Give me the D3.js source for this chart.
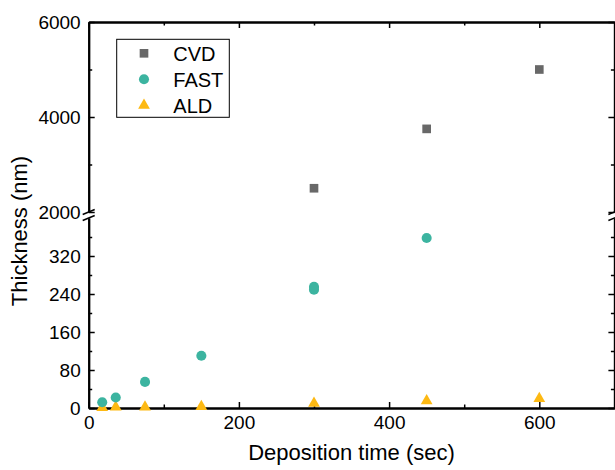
<!DOCTYPE html>
<html>
<head>
<meta charset="utf-8">
<script src="https://cdn.jsdelivr.net/npm/d3@7"></script>
<style>
  body { margin: 0; background: #fff; }
  text { font-family: "Liberation Sans", Arial, sans-serif; fill: #000; }
  .axis path, .axis line { stroke: #000; }
</style>
</head>
<body>
<div id="main"></div>
<script>
// Data
const cvdTime = [300, 450, 600];
const cvdThick = [2500, 3750, 5000];

const fastTime = [18, 36, 75, 150, 300, 300, 450];
const fastThick = [12, 22, 55, 110, 255, 249, 358];

const aldTime = [18, 36, 75, 150, 300, 450, 600];
const aldThick = [1, 2, 2, 3, 10, 15, 20];

const xTicks = [0, 200, 400, 600];
const xMinor = [100, 300, 500];
const upperTicks = [2000, 4000, 6000];
const upperMinor = [3000, 5000];
const lowerTicks = [0, 80, 160, 240, 320];
const lowerMinor = [40, 120, 200, 280, 360];

const seriesNames = ['CVD', 'FAST', 'ALD'];
const colors = ['#686868', '#3cb4a0', '#fdb913'];

// Size of the svg
const w = 615;
const h = 470;
const plotLeft = 88.7;
const plotRight = 614.4;
const plotTop = 22;
const plotBottom = 408;

const svg = d3.select('#main')
    .append('svg')
    .attr('width', w)
    .attr('height', h);

const xScale = d3.scaleLinear().domain([0, 700]).range([plotLeft, plotRight]);
// broken y axis: two pieces
const yUpper = d3.scaleLinear().domain([2000, 6000]).range([212, plotTop]);
const yLower = d3.scaleLinear().domain([0, 400]).range([plotBottom, 218]);

const yOf = (v) => (v >= 2000 ? yUpper(v) : yLower(v));

function styleAxis(g, lw) {
    g.attr('class', 'axis');
    g.select('.domain').attr('stroke-width', 2);
    g.selectAll('.tick line').attr('stroke-width', lw);
    g.selectAll('.tick text').attr('font-size', 19).attr('fill', '#000');
}

// x axes (bottom and top)
const xMajor = svg.append('g').attr('transform', `translate(0, ${plotBottom})`)
    .call(d3.axisBottom(xScale).tickValues(xTicks).tickSizeInner(-6).tickSizeOuter(0).tickPadding(8).tickFormat(d3.format('d')));
styleAxis(xMajor, 1.5);
const xMin = svg.append('g').attr('transform', `translate(0, ${plotBottom})`)
    .call(d3.axisBottom(xScale).tickValues(xMinor).tickSizeInner(-3.5).tickSizeOuter(0).tickFormat(''));
styleAxis(xMin, 1.5);

const xTop = svg.append('g').attr('transform', `translate(0, ${plotTop})`)
    .call(d3.axisTop(xScale).tickValues(xTicks).tickSizeInner(-6).tickSizeOuter(0).tickFormat(''));
styleAxis(xTop, 1.5);
const xTopMin = svg.append('g').attr('transform', `translate(0, ${plotTop})`)
    .call(d3.axisTop(xScale).tickValues(xMinor).tickSizeInner(-3.5).tickSizeOuter(0).tickFormat(''));
styleAxis(xTopMin, 1.5);

// y axes, left and right, upper and lower parts
[[yUpper, upperTicks, upperMinor], [yLower, lowerTicks, lowerMinor]].forEach(([sc, major, minor]) => {
    const a = svg.append('g').attr('transform', `translate(${plotLeft}, 0)`)
        .call(d3.axisLeft(sc).tickValues(major).tickSizeInner(-6).tickSizeOuter(0).tickPadding(8).tickFormat(d3.format('d')));
    styleAxis(a, 1.5);
    const b = svg.append('g').attr('transform', `translate(${plotLeft}, 0)`)
        .call(d3.axisLeft(sc).tickValues(minor).tickSizeInner(-3.5).tickSizeOuter(0).tickFormat(''));
    styleAxis(b, 1.5);
    const c = svg.append('g').attr('transform', `translate(${plotRight}, 0)`)
        .call(d3.axisRight(sc).tickValues(major).tickSizeInner(-6).tickSizeOuter(0).tickFormat(''));
    styleAxis(c, 1.5);
    const d = svg.append('g').attr('transform', `translate(${plotRight}, 0)`)
        .call(d3.axisRight(sc).tickValues(minor).tickSizeInner(-3.5).tickSizeOuter(0).tickFormat(''));
    styleAxis(d, 1.5);
});

// break marks
[plotLeft, plotRight].forEach((ax) => {
    [212, 218].forEach((yy) => {
        svg.append('line')
            .attr('x1', ax - 6).attr('y1', yy + 2.5)
            .attr('x2', ax + 6).attr('y2', yy - 2.5)
            .attr('stroke', '#000').attr('stroke-width', 1.5);
    });
});

// points
const toPts = (xs, ys) => xs.map((x, i) => ({x: x, y: ys[i]}));

const squareSym = d3.symbol().type(d3.symbolSquare).size(75);
const circleSym = d3.symbol().type(d3.symbolCircle).size(80);
const triSym = d3.symbol().type(d3.symbolTriangle).size(60);

svg.selectAll('.cvd').data(toPts(cvdTime, cvdThick)).enter()
    .append('path').attr('class', 'cvd')
    .attr('d', squareSym)
    .attr('transform', (d) => `translate(${xScale(d.x)}, ${yOf(d.y)})`)
    .attr('fill', colors[0]);

svg.selectAll('.ald').data(toPts(aldTime, aldThick)).enter()
    .append('path').attr('class', 'ald')
    .attr('d', triSym)
    .attr('transform', (d) => `translate(${xScale(d.x)}, ${yOf(d.y)})`)
    .attr('fill', colors[2]);

svg.selectAll('.fast').data(toPts(fastTime, fastThick)).enter()
    .append('path').attr('class', 'fast')
    .attr('d', circleSym)
    .attr('transform', (d) => `translate(${xScale(d.x)}, ${yOf(d.y)})`)
    .attr('fill', colors[1]);

// legend
const legend = svg.append('g');
legend.append('rect')
    .attr('x', 116.7).attr('y', 39.3)
    .attr('width', 112.6).attr('height', 78)
    .attr('fill', '#fff').attr('stroke', '#000').attr('stroke-width', 1);

const syms = [squareSym, circleSym, triSym];
seriesNames.forEach((name, i) => {
    const yy = 53.3 + i * 26;
    legend.append('path')
        .attr('d', syms[i])
        .attr('transform', `translate(144, ${yy})`)
        .attr('fill', colors[i]);
    legend.append('text')
        .attr('x', 173.3).attr('y', yy)
        .attr('dy', '0.36em')
        .attr('font-size', 20)
        .text(name);
});

// axis titles
svg.append('text')
    .attr('x', (plotLeft + plotRight) / 2).attr('y', 460)
    .attr('text-anchor', 'middle')
    .attr('font-size', 22)
    .text('Deposition time (sec)');

svg.append('text')
    .attr('transform', 'translate(27, 231) rotate(-90)')
    .attr('text-anchor', 'middle')
    .attr('font-size', 22)
    .text('Thickness (nm)');
</script>
</body>
</html>
